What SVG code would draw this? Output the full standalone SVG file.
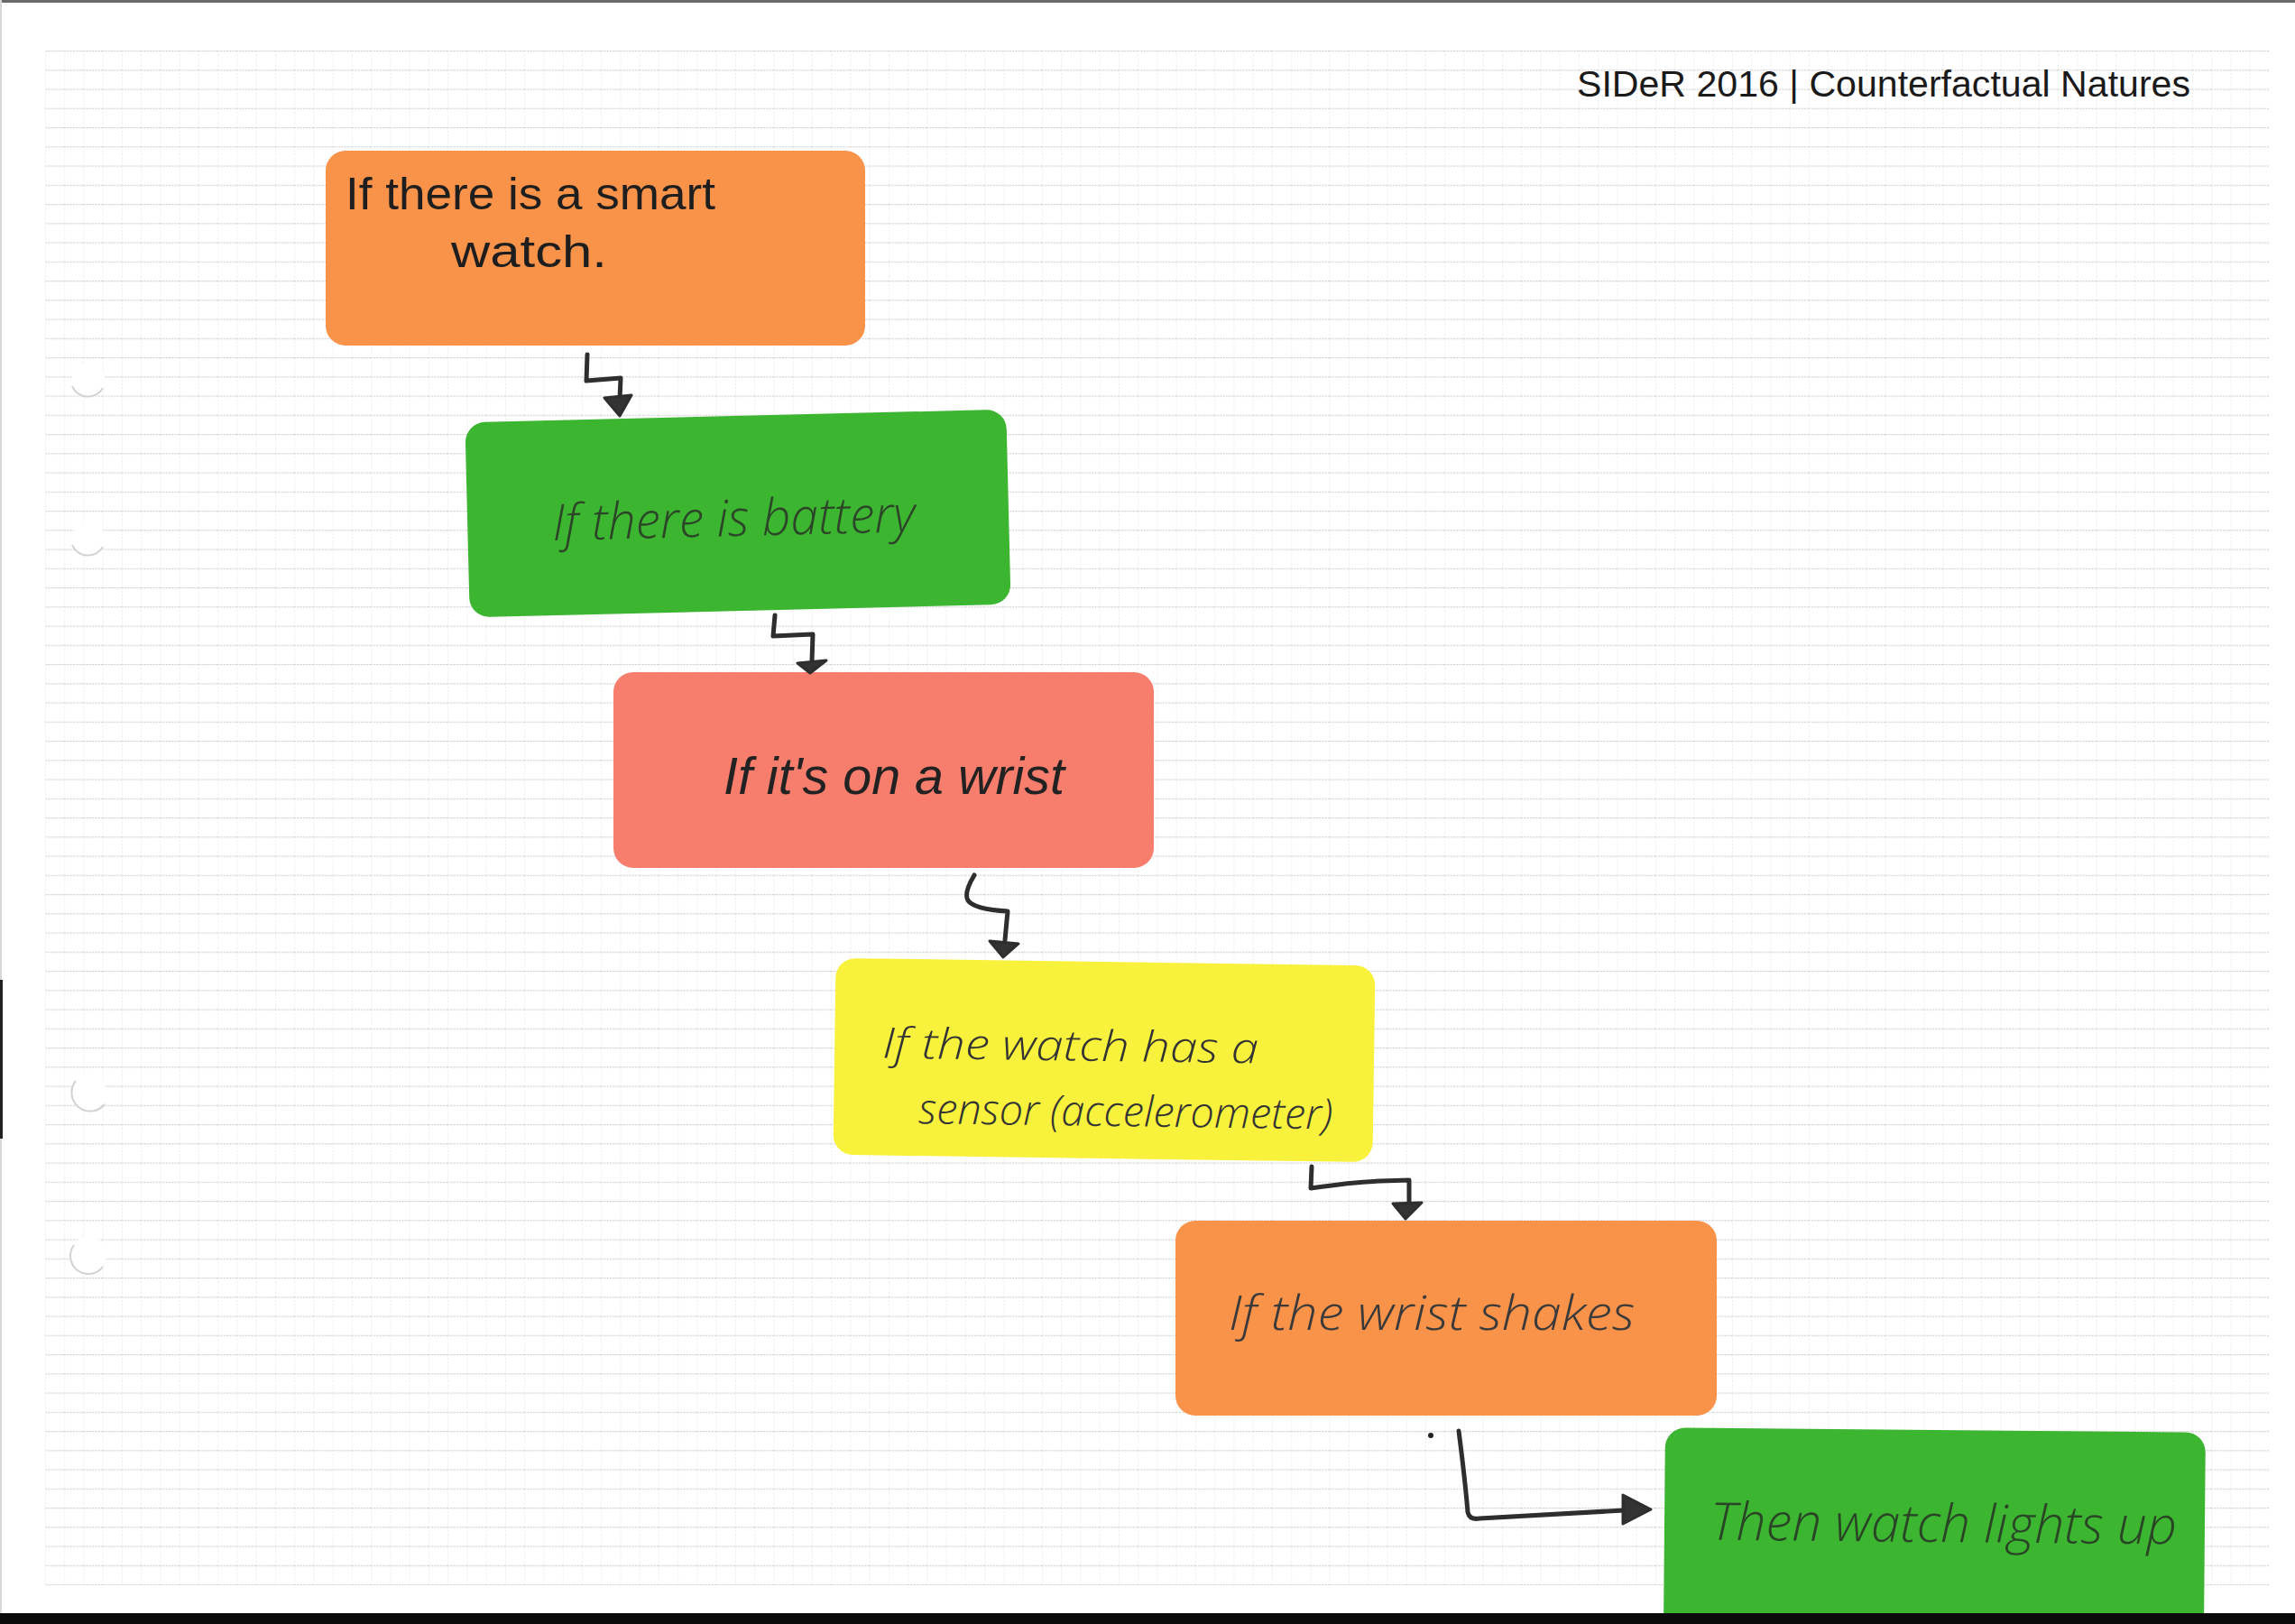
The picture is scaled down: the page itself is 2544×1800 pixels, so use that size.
<svg xmlns="http://www.w3.org/2000/svg" width="2544" height="1800" viewBox="0 0 2544 1800">
<style>
.box{stroke:none}
.orange{fill:#F9934A}
.green{fill:#3CB531}
.red{fill:#F77D6C}
.yellow{fill:#F8F23C}
.hand{font-family:"Liberation Sans","DejaVu Sans",sans-serif}
.thick{fill:#1e1e1e}
.thin{font-family:"Open Sans","Liberation Sans",sans-serif;font-weight:300;font-style:italic}
.title{font-family:"Liberation Sans",Arial,sans-serif;font-size:41px;fill:#1a1a1a}
.conn{fill:none;stroke:#2e2e2e;stroke-width:5;stroke-linecap:round;stroke-linejoin:round}
.head{fill:#333;stroke:#2e2e2e;stroke-width:3;stroke-linejoin:round}
.hole{fill:#fff}
.holeedge{fill:none;stroke:#d2d2d2;stroke-width:2}
</style>
<defs>
<pattern id="grid" patternUnits="userSpaceOnUse" x="50" y="56" width="21.25" height="21.25">
<line x1="0" y1="0.6" x2="21.25" y2="0.6" stroke="#d0d0d0" stroke-width="1.2" stroke-dasharray="2 1.2"/>
<line x1="0.5" y1="0" x2="0.5" y2="21.25" stroke="#ebebeb" stroke-width="1" stroke-dasharray="2 2"/>
</pattern>
</defs>
<g id="paper">
<rect x="0" y="0" width="2544" height="1800" fill="#ffffff"/>
<rect x="50" y="56" width="2465" height="1701" fill="url(#grid)"/>
<line x1="0" y1="1.5" x2="2544" y2="1.5" stroke="#6a6a6a" stroke-width="3"/>
<line x1="1" y1="0" x2="1" y2="1788" stroke="#d8d8d8" stroke-width="2"/>
<rect x="0" y="1086" width="3" height="176" fill="#222"/>
<circle class="hole" cx="98" cy="422" r="19"/>
<path class="holeedge" d="M80,428 A19,19 0 0 0 114,430"/>
<circle class="hole" cx="98" cy="598" r="19"/>
<path class="holeedge" d="M80,604 A19,19 0 0 0 114,606"/>
<circle class="hole" cx="98" cy="1210" r="20"/>
<path class="holeedge" d="M84,1198 A20,20 0 0 0 116,1224"/>
<circle class="hole" cx="98" cy="1390" r="20"/>
<path class="holeedge" d="M82,1380 A20,20 0 0 0 114,1404"/>
<circle cx="1586" cy="1591" r="3" fill="#222"/>
</g>
<g id="title">
<text class="title" x="1748" y="107" textLength="680" lengthAdjust="spacingAndGlyphs">SIDeR 2016 | Counterfactual Natures</text>
</g>
<g id="n1">
<rect class="box orange" x="361" y="167" width="598" height="216" rx="22"/>
<text class="hand thick" x="383" y="232" font-size="50" textLength="410" lengthAdjust="spacingAndGlyphs">If there is a smart</text>
<text class="hand thick" x="500" y="296" font-size="50" textLength="173" lengthAdjust="spacingAndGlyphs">watch.</text>
</g>
<g id="n2" transform="rotate(-1.4 819 569)">
<rect class="box green" x="518" y="461" width="600" height="216" rx="22"/>
<text class="thin" x="612" y="594" font-size="56" fill="#2c4427" textLength="402" lengthAdjust="spacingAndGlyphs">If there is battery</text>
</g>
<g id="n3">
<rect class="box red" x="680" y="745" width="599" height="217" rx="22"/>
<text class="hand" x="802" y="880" font-size="58" font-style="italic" fill="#222" textLength="378" lengthAdjust="spacingAndGlyphs">If it's on a wrist</text>
</g>
<g id="n4" transform="rotate(0.8 1224 1176)">
<rect class="box yellow" x="925" y="1066" width="598" height="218" rx="22"/>
<text class="thin" x="978" y="1176" font-size="47" fill="#333" textLength="417" lengthAdjust="spacingAndGlyphs">If the watch has a</text>
<text class="thin" x="1019" y="1248" font-size="47" fill="#333" textLength="459" lengthAdjust="spacingAndGlyphs">sensor (accelerometer)</text>
</g>
<g id="n5">
<rect class="box orange" x="1303" y="1353" width="600" height="216" rx="22"/>
<text class="thin" x="1362" y="1474" font-size="54" fill="#3a3a3a" textLength="450" lengthAdjust="spacingAndGlyphs">If the wrist shakes</text>
</g>
<g id="n6" transform="rotate(0.5 2144 1690)">
<rect class="box green" x="1845" y="1585" width="599" height="240" rx="22"/>
<text class="thin" x="1896" y="1709" font-size="58" fill="#2a4426" textLength="517" lengthAdjust="spacingAndGlyphs">Then watch lights up</text>
</g>
<rect x="0" y="1788" width="2544" height="12" fill="#0a0a0a"/>
<g id="connectors">
<path class="conn" d="M651,393 L650,422 L688,419 L687,442"/>
<polygon class="head" points="670,441 700,438 687,461"/>
<path class="conn" d="M859,682 L857,705 L901,703 L900,733"/>
<polygon class="head" points="884,735 916,732 898,746"/>
<path class="conn" d="M1080,970 Q1068,990 1073,998 Q1080,1008 1117,1010 L1114,1042"/>
<polygon class="head" points="1097,1043 1129,1046 1112,1061"/>
<path class="conn" d="M1454,1293 L1453,1317 Q1500,1310 1530,1309 L1562,1308 L1562,1333"/>
<polygon class="head" points="1544,1334 1576,1333 1558,1351"/>
<path class="conn" d="M1617,1586 Q1624,1640 1627,1676 Q1629,1685 1640,1683 L1800,1674"/>
<polygon class="head" points="1799,1657 1799,1689 1830,1673"/>
</g>
</svg>
